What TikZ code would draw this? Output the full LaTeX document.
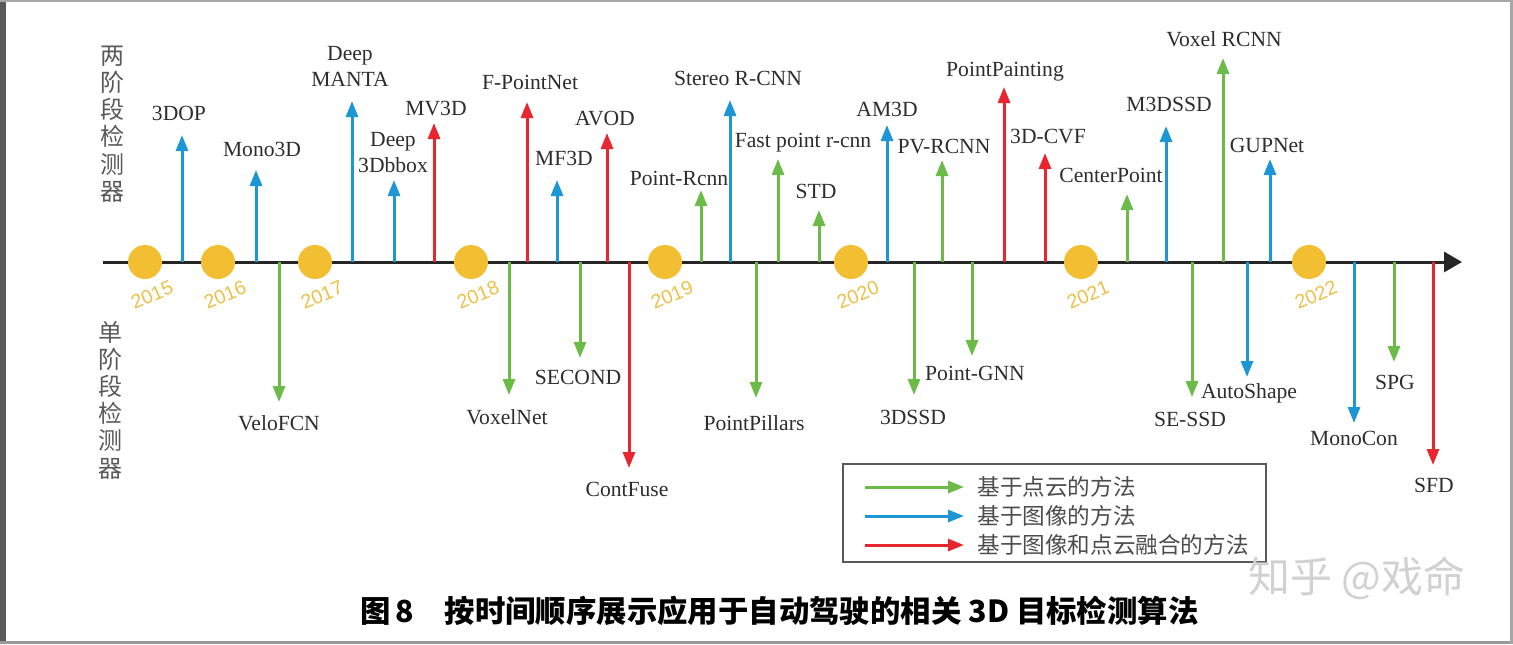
\documentclass[tikz,border=0pt]{standalone}
\usepackage{fontspec}
\setmainfont{Liberation Serif}
\newfontfamily\cjk{Noto Sans CJK SC}
\newfontfamily\yearfont{Liberation Sans}
\usetikzlibrary{arrows.meta}
\definecolor{ptgreen}{RGB}{108,186,72}
\definecolor{imgblue}{RGB}{28,150,212}
\definecolor{fusered}{RGB}{232,38,48}
\definecolor{yeargold}{RGB}{243,191,50}
\definecolor{yeartext}{RGB}{236,192,72}
\definecolor{labgray}{RGB}{45,45,45}

\begin{document}
\begin{tikzpicture}[x=0.5pt,y=-0.5pt,>=Triangle,
    every node/.style={font=\fontsize{10.8}{13}\selectfont,text=labgray,inner sep=0pt},
    stemline/.style={line width=1.5pt,-{Triangle[length=8pt,width=6pt]}},
    ptarr/.style={stemline,draw=ptgreen},
    imgarr/.style={stemline,draw=imgblue},
    fusearr/.style={stemline,draw=fusered},
    yr/.style={circle,fill=yeargold,minimum size=17pt},
    yrlab/.style={font=\yearfont\fontsize{9.8}{11}\selectfont,text=yeartext,rotate=23},
    side/.style={font=\cjk\fontsize{12}{13.6}\selectfont,text=black!65,align=center},
    legtext/.style={anchor=west,font=\cjk\fontsize{11.3}{13}\selectfont,text=black!70}]
    \useasboundingbox (0,0) rectangle (1513,644);
    % page frame
    \fill[black!65] (0,0) rectangle (6,644);
    \fill[black!35] (0,0) rectangle (1513,2);
    \fill[black!40] (0,641) rectangle (1513,644);
    \fill[black!35] (1510,0) rectangle (1513,644);

    % side titles
    \node[side] (two) at (112,124) {两\\阶\\段\\检\\测\\器};
    \node[side] (one) at (110,400) {单\\阶\\段\\检\\测\\器};

    % time axis
    \coordinate (axl) at (103,262);
    \coordinate (axr) at (1462,262);
    \draw[line width=1.5pt,black!85,-{Triangle[length=9pt,width=10pt]}] (axl) -- (axr);

    % two-stage (up)
    \coordinate (u1) at (182,262);  \coordinate (u1t) at (182,135);  \node (l1) at (179,113) {3DOP};
    \coordinate (u2) at (256,262);  \coordinate (u2t) at (256,170);  \node (l2) at (262,149) {Mono3D};
    \coordinate (u3) at (352,262);  \coordinate (u3t) at (352,101);  \node[align=center] (l3) at (350,66) {Deep\\MANTA};
    \coordinate (u4) at (394,262);  \coordinate (u4t) at (394,180);  \node[align=center] (l4) at (393,153) {Deep\\3Dbbox};
    \coordinate (u5) at (434,262);  \coordinate (u5t) at (434,123);  \node (l5) at (436,109) {MV3D};
    \coordinate (u6) at (527,262);  \coordinate (u6t) at (527,102);  \node (l6) at (530,82) {F-PointNet};
    \coordinate (u7) at (557,262);  \coordinate (u7t) at (557,180);  \node (l7) at (564,158) {MF3D};
    \coordinate (u8) at (607,262);  \coordinate (u8t) at (607,133);  \node (l8) at (605,119) {AVOD};
    \coordinate (u9) at (701,262);  \coordinate (u9t) at (701,190);  \node (l9) at (679,178) {Point-Rcnn};
    \coordinate (u10) at (730,262); \coordinate (u10t) at (730,100); \node (l10) at (738,78) {Stereo R-CNN};
    \coordinate (u11) at (778,262); \coordinate (u11t) at (778,159); \node (l11) at (803,143) {Fast point r-cnn};
    \coordinate (u12) at (819,262); \coordinate (u12t) at (819,210); \node (l12) at (816,191) {STD};
    \coordinate (u13) at (887,262); \coordinate (u13t) at (887,125); \node (l13) at (887,109) {AM3D};
    \coordinate (u14) at (942,262); \coordinate (u14t) at (942,160); \node (l14) at (944,147) {PV-RCNN};
    \coordinate (u15) at (1004,262); \coordinate (u15t) at (1004,87); \node (l15) at (1005,72) {PointPainting};
    \coordinate (u16) at (1045,262); \coordinate (u16t) at (1045,153); \node (l16) at (1048,137) {3D-CVF};
    \coordinate (u17) at (1127,262); \coordinate (u17t) at (1127,194); \node (l17) at (1111,175) {CenterPoint};
    \coordinate (u18) at (1166,262); \coordinate (u18t) at (1166,126); \node (l18) at (1169,104) {M3DSSD};
    \coordinate (u19) at (1223,262); \coordinate (u19t) at (1223,58);  \node (l19) at (1224,39) {Voxel RCNN};
    \coordinate (u20) at (1270,262); \coordinate (u20t) at (1270,159); \node (l20) at (1267,145) {GUPNet};

    \draw[imgarr] (u1) -- (u1t);
    \draw[imgarr] (u2) -- (u2t);
    \draw[imgarr] (u3) -- (u3t);
    \draw[imgarr] (u4) -- (u4t);
    \draw[fusearr] (u5) -- (u5t);
    \draw[fusearr] (u6) -- (u6t);
    \draw[imgarr] (u7) -- (u7t);
    \draw[fusearr] (u8) -- (u8t);
    \draw[ptarr] (u9) -- (u9t);
    \draw[imgarr] (u10) -- (u10t);
    \draw[ptarr] (u11) -- (u11t);
    \draw[ptarr] (u12) -- (u12t);
    \draw[imgarr] (u13) -- (u13t);
    \draw[ptarr] (u14) -- (u14t);
    \draw[fusearr] (u15) -- (u15t);
    \draw[fusearr] (u16) -- (u16t);
    \draw[ptarr] (u17) -- (u17t);
    \draw[imgarr] (u18) -- (u18t);
    \draw[ptarr] (u19) -- (u19t);
    \draw[imgarr] (u20) -- (u20t);

    % single-stage (down)
    \coordinate (d1) at (279,262);  \coordinate (d1t) at (279,402);  \node (m1) at (279,423) {VeloFCN};
    \coordinate (d2) at (509,262);  \coordinate (d2t) at (509,395);  \node (m2) at (507,417) {VoxelNet};
    \coordinate (d3) at (580,262);  \coordinate (d3t) at (580,358);  \node (m3) at (578,377) {SECOND};
    \coordinate (d4) at (629,262);  \coordinate (d4t) at (629,468);  \node (m4) at (627,489) {ContFuse};
    \coordinate (d5) at (756,262);  \coordinate (d5t) at (756,398);  \node (m5) at (754,423) {PointPillars};
    \coordinate (d6) at (914,262);  \coordinate (d6t) at (914,395);  \node (m6) at (913,417) {3DSSD};
    \coordinate (d7) at (972,262);  \coordinate (d7t) at (972,356);  \node (m7) at (975,373) {Point-GNN};
    \coordinate (d8) at (1192,262); \coordinate (d8t) at (1192,397); \node (m8) at (1190,419) {SE-SSD};
    \coordinate (d9) at (1247,262); \coordinate (d9t) at (1247,377); \node (m9) at (1249,393) {AutoShape};
    \coordinate (d10) at (1354,262); \coordinate (d10t) at (1354,423); \node (m10) at (1354,438) {MonoCon};
    \coordinate (d11) at (1394,262); \coordinate (d11t) at (1394,362); \node (m11) at (1395,382) {SPG};
    \coordinate (d12) at (1433,262); \coordinate (d12t) at (1433,465); \node (m12) at (1434,485) {SFD};

    \draw[ptarr] (d1) -- (d1t);
    \draw[ptarr] (d2) -- (d2t);
    \draw[ptarr] (d3) -- (d3t);
    \draw[fusearr] (d4) -- (d4t);
    \draw[ptarr] (d5) -- (d5t);
    \draw[ptarr] (d6) -- (d6t);
    \draw[ptarr] (d7) -- (d7t);
    \draw[ptarr] (d8) -- (d8t);
    \draw[imgarr] (d9) -- (d9t);
    \draw[imgarr] (d10) -- (d10t);
    \draw[ptarr] (d11) -- (d11t);
    \draw[fusearr] (d12) -- (d12t);

    % years
    \node[yr] (y15) at (145,262) {};  \node[yrlab] (t15) at (152,295) {2015};
    \node[yr] (y16) at (218,262) {};  \node[yrlab] (t16) at (225,295) {2016};
    \node[yr] (y17) at (315,262) {};  \node[yrlab] (t17) at (322,295) {2017};
    \node[yr] (y18) at (471,262) {};  \node[yrlab] (t18) at (478,295) {2018};
    \node[yr] (y19) at (665,262) {};  \node[yrlab] (t19) at (672,295) {2019};
    \node[yr] (y20) at (851,262) {};  \node[yrlab] (t20) at (858,295) {2020};
    \node[yr] (y21) at (1081,262) {}; \node[yrlab] (t21) at (1088,295) {2021};
    \node[yr] (y22) at (1309,262) {}; \node[yrlab] (t22) at (1316,295) {2022};

    % legend
    \node[draw=black!65,line width=1pt,minimum width=211.5pt,minimum height=49pt] (leg) at (1054.5,513) {};
    \coordinate (g1a) at (865,487); \coordinate (g1b) at (964,487);
    \coordinate (g2a) at (865,516); \coordinate (g2b) at (964,516);
    \coordinate (g3a) at (865,545); \coordinate (g3b) at (964,545);
    \draw[ptarr] (g1a) -- (g1b);
    \draw[imgarr] (g2a) -- (g2b);
    \draw[fusearr] (g3a) -- (g3b);
    \node[legtext] (g1) at (977,487) {基于点云的方法};
    \node[legtext] (g2) at (977,516) {基于图像的方法};
    \node[legtext] (g3) at (977,545) {基于图像和点云融合的方法};

    % watermark and caption
    \node[font=\cjk\fontsize{21}{24}\selectfont,text=black!18] (wm) at (1357,578) {知乎 @戏命};
    \node[anchor=west,font=\cjk\bfseries\fontsize{15.2}{18}\selectfont,text=black] (cap) at (360,611) {图\,8\quad 按时间顺序展示应用于自动驾驶的相关 3D 目标检测算法};
\end{tikzpicture}
\end{document}
